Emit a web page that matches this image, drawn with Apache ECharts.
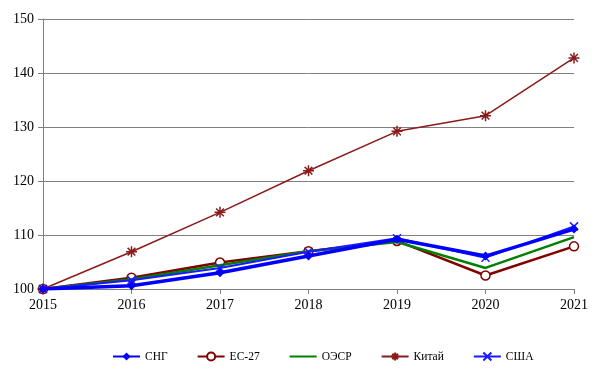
<!DOCTYPE html>
<html><head><meta charset="utf-8">
<script src="https://cdn.jsdelivr.net/npm/echarts@6/dist/echarts.min.js"></script>
<style>html,body{margin:0;padding:0;background:#fff}#c{width:595px;height:385px}</style>
</head><body><div id="c"></div>
<script>
const years = ['2015','2016','2017','2018','2019','2020','2021'];
const cis   = [100, 100.6, 103.0, 106.1, 109.2, 106.1, 111.1];
const eu27  = [100, 102.1, 104.9, 107.0, 108.9, 102.5, 107.9];
const oecd  = [100, 101.8, 104.4, 107.0, 108.7, 103.9, 109.6];
const china = [100, 106.9, 114.2, 121.9, 129.2, 132.1, 142.8];
const usa   = [100, 101.6, 103.9, 106.9, 109.4, 105.8, 111.6];
const yTicks = {min: 100, max: 150, interval: 10};

const serif = '"Liberation Serif", "DejaVu Serif", serif';
const star = 'path://M5,0 L5,10 M0,5 L10,5 M1.5,1.5 L8.5,8.5 M8.5,1.5 L1.5,8.5';
const cross = 'path://M0,0 L10,10 M10,0 L0,10';

const chart = echarts.init(document.getElementById('c'), null, {renderer: 'canvas'});
chart.setOption({
  animation: false,
  backgroundColor: '#fff',
  grid: {left: 43, right: 21, top: 19, bottom: 96},
  legend: {
    bottom: 17, left: 107, itemGap: 29, itemWidth: 27, itemHeight: 10,
    textStyle: {fontFamily: serif, fontSize: 11.5, color: '#000'},
    data: ['СНГ','ЕС-27',{name: 'ОЭСР', itemStyle: {opacity: 0}},'Китай','США']
  },
  xAxis: {
    type: 'category', data: years, boundaryGap: false,
    axisLine: {lineStyle: {color: '#808080', width: 1}},
    axisTick: {show: true, length: 5, lineStyle: {color: '#808080'}},
    axisLabel: {fontFamily: serif, fontSize: 14, color: '#000', margin: 9},
    splitLine: {show: false}
  },
  yAxis: {
    type: 'value', min: yTicks.min, max: yTicks.max, interval: yTicks.interval,
    axisLine: {show: true, lineStyle: {color: '#808080', width: 1}},
    axisTick: {show: true, length: 5, lineStyle: {color: '#808080'}},
    axisLabel: {fontFamily: serif, fontSize: 14, color: '#000', margin: 9},
    splitLine: {show: true, lineStyle: {color: '#808080', width: 1}}
  },
  series: [
    {name: 'ОЭСР', type: 'line', data: oecd, z: 3, symbol: 'none',
     lineStyle: {color: '#008000', width: 2.5}, itemStyle: {color: '#008000'}},
    {name: 'ЕС-27', type: 'line', data: eu27, z: 2, symbol: 'circle', symbolSize: 9,
     lineStyle: {color: '#800000', width: 2.5},
     itemStyle: {color: '#fff', borderColor: '#800000', borderWidth: 1.5}},
    {name: 'Китай', type: 'line', data: china, z: 4, symbol: star, symbolSize: 11,
     lineStyle: {color: '#8B1A1A', width: 1.5},
     itemStyle: {color: 'none', borderColor: '#8B1A1A', borderWidth: 1.5}},
    {name: 'США', type: 'line', data: usa, z: 5, symbol: cross, symbolSize: 8,
     lineStyle: {color: '#1a1aff', width: 2},
     itemStyle: {color: 'none', borderColor: '#1a1aff', borderWidth: 1.5}},
    {name: 'СНГ', type: 'line', data: cis, z: 6, symbol: 'diamond', symbolSize: 9,
     lineStyle: {color: '#0000ff', width: 3.5},
     itemStyle: {color: '#0000ff'}}
  ]
});
</script></body></html>
